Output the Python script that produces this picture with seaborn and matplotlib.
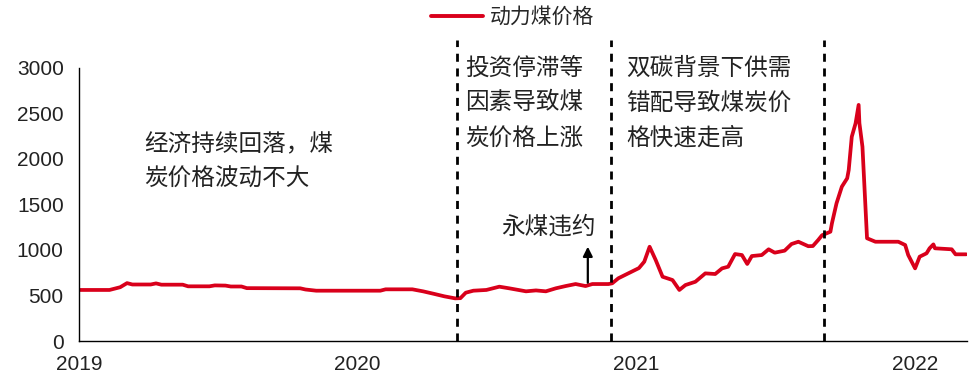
import matplotlib
matplotlib.use("Agg")
import matplotlib.pyplot as plt
import matplotlib.dates as mdates
import pandas as pd
import seaborn as sns

# 动力煤价格 (元/吨)
dates = [
    "2019-01-01", "2019-02-10", "2019-02-17", "2019-02-24", "2019-03-05", "2019-03-12",
    "2019-04-05", "2019-04-12", "2019-04-19", "2019-05-17", "2019-05-24", "2019-06-21",
    "2019-06-28", "2019-07-12", "2019-07-19", "2019-08-02", "2019-08-09", "2019-10-18",
    "2019-10-25", "2019-11-08", "2020-01-31", "2020-02-07", "2020-03-13", "2020-03-27",
    "2020-04-10", "2020-04-24", "2020-05-08", "2020-05-15", "2020-05-22", "2020-06-01",
    "2020-06-18", "2020-07-05", "2020-07-18", "2020-08-09", "2020-08-22", "2020-09-04",
    "2020-09-17", "2020-09-30", "2020-10-13", "2020-10-26", "2020-11-04", "2020-11-25",
    "2020-11-30", "2020-12-08", "2020-12-21", "2021-01-04", "2021-01-11", "2021-01-18",
    "2021-01-26", "2021-02-04", "2021-02-17", "2021-02-26", "2021-03-06", "2021-03-19",
    "2021-04-01", "2021-04-14", "2021-04-23", "2021-05-01", "2021-05-10", "2021-05-19",
    "2021-05-26", "2021-06-01", "2021-06-14", "2021-06-23", "2021-07-01", "2021-07-14",
    "2021-07-23", "2021-08-01", "2021-08-14", "2021-08-20", "2021-08-27", "2021-09-01",
    "2021-09-12", "2021-09-14", "2021-09-20", "2021-09-27", "2021-10-04", "2021-10-06",
    "2021-10-10", "2021-10-15", "2021-10-19", "2021-10-20", "2021-10-24", "2021-10-30",
    "2021-11-10", "2021-12-10", "2021-12-19", "2021-12-23", "2022-01-01", "2022-01-07",
    "2022-01-16", "2022-01-20", "2022-01-25", "2022-01-27", "2022-02-18", "2022-02-23",
    "2022-03-09",
]
prices = [
    560, 560, 575, 590, 635, 620,
    620, 632, 618, 618, 600, 600,
    610, 608, 598, 598, 580, 578,
    565, 552, 552, 567, 567, 545,
    518, 490, 468, 470, 530, 552,
    560, 596, 578, 545, 555, 545,
    578, 603, 625, 603, 625, 625,
    633, 688, 742, 800, 870, 1034,
    888, 705, 669, 560, 614, 650,
    742, 735, 797, 815, 954, 943,
    845, 932, 943, 1006, 969, 991,
    1064, 1089, 1040, 1042, 1108, 1160,
    1199, 1291, 1510, 1693, 1785, 1876,
    2241, 2388, 2590, 2390, 2131, 1127,
    1089, 1089, 1053, 943, 797, 925,
    962, 1017, 1060, 1017, 1006, 951,
    951,
]
series_name = "动力煤价格"

# Phase boundaries and event marker
phase_breaks = ["2020-05-11", "2020-11-29", "2021-09-03"]
event_date = "2020-10-29"
event_label = "永煤违约"

phase_notes = [
    ("2019-03-28", [(2150, "经济持续回落，煤"), (1777, "炭价格波动不大")]),
    ("2020-05-21", [(2995, "投资停滞等"), (2611, "因素导致煤"), (2227, "炭价格上涨")]),
    ("2020-12-18", [(2995, "双碳背景下供需"), (2611, "错配导致煤炭价"), (2227, "格快速走高")]),
]

y_ticks = [0, 500, 1000, 1500, 2000, 2500, 3000]

df = pd.DataFrame({"date": pd.to_datetime(dates), "price": prices, "series": series_name})

sns.set_style("white")
plt.rcParams["font.family"] = ["Liberation Sans", "Noto Sans CJK SC", "DejaVu Sans"]
cjk = ["Noto Sans CJK SC", "DejaVu Sans"]

fig = plt.figure(figsize=(9.69, 3.80), dpi=100)
ax = fig.add_axes([0.0815, 0.1026, 0.9164, 0.7197])

red = "#D9001B"
sns.lineplot(data=df, x="date", y="price", hue="series", palette=[red],
             linewidth=2.7, ax=ax, legend=False)

ax.set_xlim(pd.Timestamp("2019-01-01"), pd.Timestamp("2022-03-10"))
ax.set_ylim(0, 3000)
ax.set_yticks(y_ticks)
ax.xaxis.set_major_locator(mdates.YearLocator())
ax.xaxis.set_major_formatter(mdates.DateFormatter("%Y"))
ax.set_xlabel("")
ax.set_ylabel("")

for s in ["top", "right"]:
    ax.spines[s].set_visible(False)
for s in ["left", "bottom"]:
    ax.spines[s].set_color("black")
    ax.spines[s].set_linewidth(1.0)
ax.tick_params(axis="both", which="major", direction="out", length=5, width=1.0,
               color="black", labelsize=15, labelcolor="#222222")
ax.tick_params(axis="y", pad=6)
ax.tick_params(axis="x", pad=5)
ax.grid(False)

# Phase separators
for d in phase_breaks:
    ax.axvline(pd.Timestamp(d), ymin=0, ymax=3300 / 3000, color="black",
               linewidth=2.0, linestyle=(0, (2.9, 2.4)), clip_on=False)

# Phase descriptions
for left, lines in phase_notes:
    for yv, txt in lines:
        ax.text(pd.Timestamp(left), yv, txt, family=cjk, fontsize=17,
                color="#222222", ha="left", va="center")

# Event arrow
ax.annotate("", xy=(pd.Timestamp(event_date), 1035),
            xytext=(pd.Timestamp(event_date), 640),
            arrowprops=dict(arrowstyle="-|>", color="black", lw=1.6,
                            mutation_scale=14, shrinkA=0, shrinkB=0))
ax.text(pd.Timestamp("2020-09-07"), 1251, event_label, family=cjk, fontsize=17,
        color="#222222", ha="center", va="center")

# Legend
handle = plt.Line2D([], [], color=red, linewidth=2.8)
fig.legend([handle], [series_name], loc="center", bbox_to_anchor=(0.529, 0.955),
           frameon=False, prop={"family": cjk, "size": 15}, handlelength=2.5,
           handletextpad=0.3, borderpad=0)

fig.savefig("out.png", dpi=100)
